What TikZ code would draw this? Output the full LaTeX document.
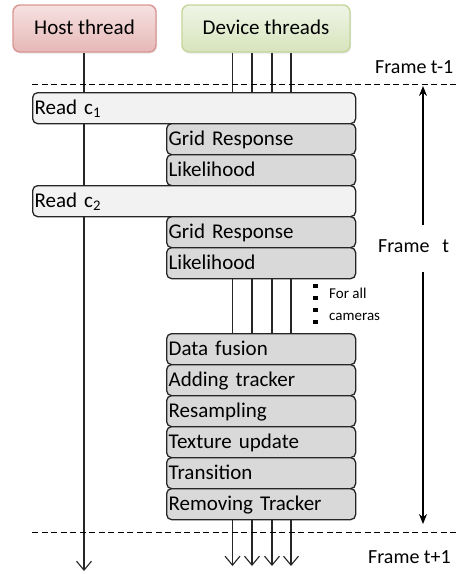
\documentclass[tikz,border=0pt]{standalone}
\usepackage{fontspec}
\setmainfont{Carlito}
\usetikzlibrary{arrows.meta,backgrounds,shadows}
\definecolor{hostfillA}{HTML}{F6E1E1}
\definecolor{hostfillB}{HTML}{E6B8B7}
\definecolor{hostdraw}{HTML}{D99694}
\definecolor{devfillA}{HTML}{F0F5E6}
\definecolor{devfillB}{HTML}{D7E4BD}
\definecolor{devdraw}{HTML}{C3D69B}
\definecolor{readfill}{HTML}{F2F2F2}
\definecolor{procfill}{HTML}{D9D9D9}
\begin{document}
\begin{tikzpicture}[x=1pt,y=-1pt,
  header/.style={rounded corners=7pt, line width=1.4pt, minimum height=47pt,
    font=\fontsize{21}{24}\selectfont, text height=15pt, text depth=4pt,
    drop shadow={opacity=0.2, shadow xshift=1pt, shadow yshift=-1.5pt}},
  boxbase/.style={draw=black!85, line width=1.3pt, rounded corners=5pt, anchor=north west,
    minimum height=31pt, inner xsep=2pt, inner ysep=0pt, align=left,
    font=\fontsize{21}{24}\selectfont, text height=16.5pt, text depth=3.5pt},
  readbox/.style={boxbase, fill=readfill, minimum width=323pt, text width=319pt},
  procbox/.style={boxbase, fill=procfill, minimum width=189pt, text width=185pt},
  thread/.style={line width=1.2pt, draw=black!85},
  threadend/.style={thread, -{Straight Barb[length=9pt,width=15pt,line width=1.1pt]}},
  framearrow/.style={line width=1.2pt, -{Stealth[length=10pt,width=8pt]}},
  sep/.style={line width=1pt, dash pattern=on 6pt off 3.5pt},
  lab/.style={anchor=base west, inner sep=0pt, font=\fontsize{20}{24}\selectfont}]
\useasboundingbox (0,0) rectangle (463,574);

% headers
\node[header, draw=hostdraw, top color=hostfillA, bottom color=hostfillB, minimum width=143pt] (host) at (84.5,28.5) {Host thread};
\node[header, draw=devdraw, top color=devfillA, bottom color=devfillB, minimum width=168pt] (dev) at (266,28.5) {Device threads};

% boxes
\node[readbox] (r1) at (32,92) {Read c\textsubscript{1}};
\node[procbox] (g1) at (166,123) {Grid Response};
\node[procbox] (l1) at (166,154) {Likelihood};
\node[readbox] (r2) at (32,185) {Read c\textsubscript{2}};
\node[procbox] (g2) at (166,216) {Grid Response};
\node[procbox] (l2) at (166,247) {Likelihood};
\node[procbox] (df) at (166,333) {Data fusion};
\node[procbox] (at) at (166,364) {Adding tracker};
\node[procbox] (rs) at (166,395) {Resampling};
\node[procbox] (tu) at (166,426) {Texture update};
\node[procbox] (tr) at (166,457) {Transition};
\node[procbox] (rt) at (166,488) {Removing Tracker};

% thread x positions and ends
\coordinate (hx) at (84,0);
\coordinate (d1) at (232.5,0);
\coordinate (d2) at (252,0);
\coordinate (d3) at (272,0);
\coordinate (d4) at (291,0);
\coordinate (hend) at (0,571);
\coordinate (dend) at (0,566);

\begin{scope}[on background layer]
  \draw[threadend] (hx |- host.south) -- (hx |- hend);
  \foreach \d in {d1,d2,d3,d4}{
    \draw[thread] (\d |- dev.south) -- (\d |- r1.north);
    \draw[thread] (\d |- l2.south) -- (\d |- df.north);
    \draw[threadend] (\d |- rt.south) -- (\d |- dend);
  }
\end{scope}

% frame separators
\coordinate (s1a) at (32,84);
\coordinate (s1b) at (459,84);
\coordinate (s2a) at (32,532);
\coordinate (s2b) at (456,532);
\draw[sep] (s1a) -- (s1b);
\draw[sep] (s2a) -- (s2b);

% frame labels
\node[lab] (ftm1) at (375,73) {Frame t-1};
\node[lab] (ft) at (378,252) {Frame\hspace{13pt}t};
\node[lab] (ftp1) at (368,563) {Frame t+1};

% frame arrow
\coordinate (fa1) at (423,225);
\coordinate (fa2) at (423,272);
\coordinate (ftop) at (423,86);
\coordinate (fbot) at (423,524);
\draw[framearrow] (fa1) -- (ftop);
\draw[framearrow] (fa2) -- (fbot);

% for all cameras
\foreach \y in {286,298,310,322}{
  \fill (313,\y-2.4) rectangle (317.8,\y+2.4);
}
\node[anchor=west, align=left, inner sep=0pt, font=\fontsize{15}{22}\selectfont] (fac) at (329,304) {For all\\cameras};
\end{tikzpicture}
\end{document}
